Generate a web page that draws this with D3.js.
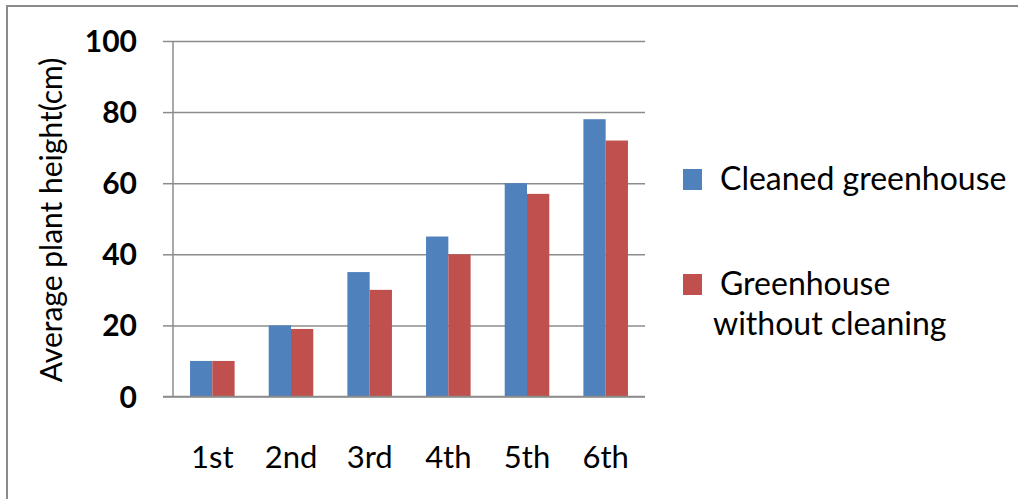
<!DOCTYPE html>
<html>
<head>
<meta charset="utf-8">
<script src="https://cdn.jsdelivr.net/npm/d3@7"></script>
<style>
  body { margin: 0; background: #fff; }
  svg { display: block; }
  text { font-family: Lato, "Open Sans", sans-serif; fill: #000; }
</style>
</head>
<body>
<div id="chart"></div>
<script>
// data
var periods = ["1st", "2nd", "3rd", "4th", "5th", "6th"];
var series = ["Cleaned greenhouse", "Greenhouse without cleaning"];
var cleaned = [10, 20, 35, 45, 60, 78];
var notCleaned = [10, 19, 30, 40, 57, 72];
var yTicks = [0, 20, 40, 60, 80, 100];
var colors = ["#4f81bd", "#c0504d"];

var width = 1018,
    height = 499;

var plot = {left: 173, right: 645, top: 41, bottom: 396.5};

var svg = d3.select("#chart")
    .append("svg")
    .attr("width", width)
    .attr("height", height);

// outer frame (only top and left edges show)
svg.append("path")
    .attr("d", "M7,499 V6 H1018")
    .attr("fill", "none")
    .attr("stroke", "#8a8a8a")
    .attr("stroke-width", 2);

var x = d3.scaleBand()
    .domain(periods)
    .range([plot.left, plot.right]);

var x1 = d3.scaleBand()
    .domain(series)
    .range([0, x.bandwidth()])
    .paddingOuter(0.765);

var y = d3.scaleLinear()
    .domain([0, 100])
    .range([plot.bottom, plot.top]);

// gridlines
svg.append("g")
    .attr("class", "grid")
    .attr("transform", "translate(" + plot.left + ",0)")
    .call(d3.axisLeft(y).tickValues(yTicks).tickSize(-(plot.right - plot.left)).tickFormat(""))
    .call(function(g) {
        g.select(".domain").remove();
        g.selectAll("line").attr("stroke", "#8c8c8c").attr("stroke-width", 1.5);
    });

// y axis with labels
svg.append("g")
    .attr("transform", "translate(" + plot.left + ",0)")
    .call(d3.axisLeft(y).tickValues(yTicks).tickSize(10).tickPadding(26))
    .call(function(g) {
        g.select(".domain").attr("stroke", "#8c8c8c").attr("stroke-width", 1.5)
            .attr("d", "M0," + plot.top + "V" + plot.bottom);
        g.selectAll("line").attr("stroke", "#8c8c8c").attr("stroke-width", 1.5);
        g.selectAll("text")
            .attr("font-family", "Lato, sans-serif")
            .attr("font-size", 30)
            .attr("font-weight", "bold")
            .attr("dy", "0.35em");
    });

// bars
var rows = periods.map(function(p, i) {
    return {period: p, values: [cleaned[i], notCleaned[i]]};
});

var groups = svg.append("g")
    .selectAll("g")
    .data(rows)
    .enter().append("g")
    .attr("transform", function(d) { return "translate(" + x(d.period) + ",0)"; });

groups.selectAll("rect")
    .data(function(d) { return d.values.map(function(v, j) { return {key: series[j], value: v, idx: j}; }); })
    .enter().append("rect")
    .attr("x", function(d) { return x1(d.key); })
    .attr("width", x1.bandwidth())
    .attr("y", function(d) { return y(d.value); })
    .attr("height", function(d) { return y(0) - y(d.value); })
    .attr("fill", function(d) { return colors[d.idx]; });

// baseline on top of bars
svg.append("line")
    .attr("x1", plot.left - 10)
    .attr("x2", plot.right)
    .attr("y1", y(0))
    .attr("y2", y(0))
    .attr("stroke", "#8c8c8c")
    .attr("stroke-width", 1.5);

// x axis labels
svg.append("g")
    .attr("transform", "translate(0," + plot.bottom + ")")
    .call(d3.axisBottom(x).tickSize(0))
    .call(function(g) {
        g.select(".domain").remove();
        g.selectAll("text")
            .attr("font-family", "Lato, sans-serif")
            .attr("font-size", 31)
            .attr("y", 71.5)
            .attr("dy", 0);
    });

// y title
svg.append("text")
    .attr("transform", "translate(62,220) rotate(-90)")
    .attr("text-anchor", "middle")
    .attr("font-size", 30)
    .text("Average plant height(cm)");

// legend
var legend = svg.append("g");
legend.append("rect")
    .attr("x", 683).attr("y", 169).attr("width", 19).attr("height", 21)
    .attr("fill", colors[0]);
legend.append("text")
    .attr("x", 720).attr("y", 190)
    .attr("font-size", 32)
    .text(series[0]);

legend.append("rect")
    .attr("x", 683).attr("y", 274).attr("width", 19).attr("height", 21)
    .attr("fill", colors[1]);
legend.append("text")
    .attr("x", 720).attr("y", 295)
    .attr("font-size", 32)
    .text("Greenhouse");
legend.append("text")
    .attr("x", 713).attr("y", 335)
    .attr("font-size", 32)
    .text("without cleaning");
</script>
</body>
</html>
